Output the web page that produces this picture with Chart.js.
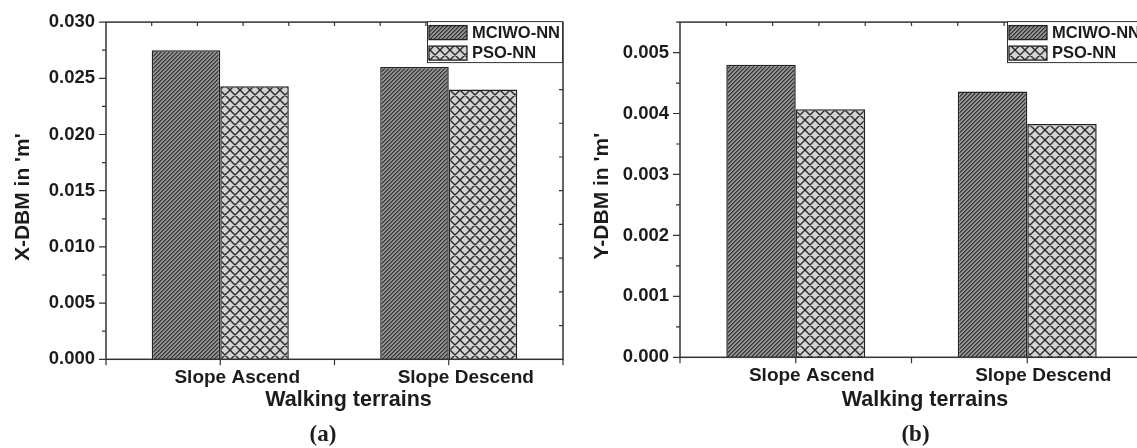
<!DOCTYPE html>
<html><head><meta charset="utf-8">
<script src="https://cdn.jsdelivr.net/npm/chart.js@4.4.1/dist/chart.umd.min.js"></script>
<style>
html,body{margin:0;padding:0;background:#fff;overflow:hidden}
#wrap{position:relative;width:1137px;height:448px;overflow:hidden;background:#fff}
.c{position:absolute;top:0;height:448px}
#ca{left:0;width:575px}
#cb{left:575px;width:580px}
</style></head><body>
<div id="wrap"><div class="c" id="ca"><canvas id="a"></canvas></div><div class="c" id="cb"><canvas id="b"></canvas></div></div>
<script>
// ---- data ----
const categories = ['Slope Ascend', 'Slope Descend'];
const seriesNames = ['MCIWO-NN', 'PSO-NN'];
const xdbmMCIWO = [0.0275, 0.0260];
const xdbmPSO = [0.0243, 0.0240];
const ydbmMCIWO = [0.00480, 0.00436];
const ydbmPSO = [0.00407, 0.00383];
const xdbmTicks = [0, 0.005, 0.010, 0.015, 0.020, 0.025, 0.030];
const ydbmTicks = [0, 0.001, 0.002, 0.003, 0.004, 0.005];
const xdbmMax = 0.030;
const ydbmMax = 0.0055;
const xAxisTitle = 'Walking terrains';
const yTitleA = "X-DBM in 'm'";
const yTitleB = "Y-DBM in 'm'";
const captionA = '(a)';
const captionB = '(b)';

// ---- patterns ----
function hatchPattern() {
  const c = document.createElement('canvas'); c.width = 4; c.height = 4;
  const g = c.getContext('2d'); const im = g.createImageData(4, 4);
  for (let y = 0; y < 4; y++) for (let x = 0; x < 4; x++) {
    const d = (x + y) % 4;
    const v = d === 0 ? 52 : (d === 1 ? 92 : 146);
    const i = (y * 4 + x) * 4;
    im.data[i] = im.data[i + 1] = im.data[i + 2] = v; im.data[i + 3] = 255;
  }
  g.putImageData(im, 0, 0);
  return g.createPattern(c, 'repeat');
}
function crossPattern() {
  const p = 10;
  const c = document.createElement('canvas'); c.width = p; c.height = p;
  const g = c.getContext('2d');
  g.fillStyle = '#d3d3d3'; g.fillRect(0, 0, p, p);
  g.strokeStyle = '#2a2a2a'; g.lineWidth = 1.4;
  g.beginPath();
  for (const o of [-p, 0, p]) {
    g.moveTo(o - 2, -2); g.lineTo(o + p + 2, p + 2);
    g.moveTo(o - 2, p + 2); g.lineTo(o + p + 2, -2);
  }
  g.stroke();
  return g.createPattern(c, 'repeat');
}
const HATCH = hatchPattern();
const CROSS = crossPattern();

const FONT = "'Liberation Sans', Arial, sans-serif";
const INK = '#1c1c1c';

// ---- plugins ----
const decorPlugin = {
  id: 'decor',
  afterDatasetsDraw(chart, args, o) {
    const ctx = chart.ctx, a = chart.chartArea;
    const ys = chart.scales.y, xs = chart.scales.x;
    ctx.save();
    ctx.strokeStyle = '#333';
    ctx.lineWidth = 1.5;
    ctx.strokeRect(a.left, a.top, a.right - a.left, a.bottom - a.top);
    ctx.lineWidth = 1.2;
    ctx.beginPath();
    const tv = ys.ticks.map(t => t.value);
    tv.forEach(v => { const y = ys.getPixelForValue(v); ctx.moveTo(a.left - 7, y); ctx.lineTo(a.left, y); });
    const step = tv[1] - tv[0];
    tv.forEach(v => { const m = v + step / 2; if (m <= ys.max + 1e-12) { const y = ys.getPixelForValue(m); ctx.moveTo(a.left - 4, y); ctx.lineTo(a.left, y); } });
    for (let i = 1; i < 10; i++) {
      const y = a.top + (a.bottom - a.top) * i / 10;
      ctx.moveTo(a.right - 4, y); ctx.lineTo(a.right, y);
      const x = a.left + (a.right - a.left) * i / 10;
      ctx.moveTo(x, a.top); ctx.lineTo(x, a.top + 4);
    }
    const n = chart.data.labels.length;
    for (let k = -0.5; k <= n - 0.5 + 1e-9; k += 0.5) {
      const x = xs.getPixelForValue(k);
      ctx.moveTo(x, a.bottom); ctx.lineTo(x, a.bottom + 6);
    }
    ctx.stroke();

    // legend inside plot, top-right
    const lw = 136, lh = 42;
    const lx = a.right - lw, ly = a.top - 1;
    ctx.fillStyle = '#fff';
    ctx.fillRect(lx, ly, lw, lh);
    ctx.lineWidth = 1; ctx.strokeStyle = '#333';
    ctx.strokeRect(lx + 0.5, ly + 0.5, lw - 1, lh - 1);
    ctx.font = 'bold 16.5px ' + FONT;
    ctx.textBaseline = 'middle'; ctx.textAlign = 'left';
    chart.data.datasets.forEach((ds, i) => {
      const sy = ly + 4.5 + i * 20.5;
      ctx.fillStyle = ds.backgroundColor;
      ctx.fillRect(lx + 2, sy, 38, 14);
      ctx.lineWidth = 1.3; ctx.strokeStyle = '#222';
      ctx.strokeRect(lx + 2, sy, 38, 14);
      ctx.fillStyle = INK;
      ctx.fillText(ds.label, lx + 45, sy + 7.5);
    });

    // axis titles + caption
    ctx.fillStyle = INK;
    ctx.textAlign = 'center'; ctx.textBaseline = 'middle';
    ctx.font = 'bold 21.5px ' + FONT;
    const cx = (a.left + a.right) / 2, cy = (a.top + a.bottom) / 2;
    ctx.fillText(o.xTitle, cx + o.xTitleDx, o.xTitleY);
    ctx.save();
    ctx.font = 'bold 21px ' + FONT;
    ctx.translate(a.left + o.yTitleDx, cy + 6.5);
    ctx.rotate(-Math.PI / 2);
    ctx.fillText(o.yTitle, 0, 0);
    ctx.restore();
    ctx.font = "bold 23px 'Liberation Serif', 'Times New Roman', serif";
    ctx.fillText(o.caption, cx + o.captionDx, o.captionY);
    ctx.restore();
  }
};

function makeChart(id, mc, ps, tickVals, maxV, layout, deco) {
  return new Chart(document.getElementById(id), {
    type: 'bar',
    data: {
      labels: categories,
      datasets: [
        { label: seriesNames[0], data: mc, backgroundColor: HATCH, borderColor: '#222', borderWidth: 1.5 },
        { label: seriesNames[1], data: ps, backgroundColor: CROSS, borderColor: '#222', borderWidth: 1.5 }
      ]
    },
    options: {
      responsive: true, maintainAspectRatio: false, animation: false,
      layout: { padding: { top: layout.top, right: layout.right, left: 0, bottom: 0 } },
      datasets: { bar: { categoryPercentage: 0.6, barPercentage: 1.0 } },
      plugins: { legend: { display: false }, tooltip: { enabled: false }, decor: deco },
      scales: {
        x: {
          grid: { display: false, drawTicks: false }, border: { display: false },
          ticks: { color: INK, font: { family: FONT, size: 19, weight: 'bold' }, padding: 7, labelOffset: layout.labelOffset, maxRotation: 0 },
          afterFit: s => { s.height = layout.xHeight; }
        },
        y: {
          min: 0, max: maxV,
          grid: { display: false, drawTicks: false }, border: { display: false },
          afterBuildTicks: s => { s.ticks = tickVals.map(v => ({ value: v })); },
          ticks: { color: INK, font: { family: FONT, size: 18.5, weight: 'bold' }, padding: 11, callback: v => Number(v).toFixed(3) },
          afterFit: s => { s.width = layout.yWidth; }
        }
      }
    },
    plugins: [decorPlugin]
  });
}

makeChart('a', xdbmMCIWO, xdbmPSO, xdbmTicks, xdbmMax,
  { top: 19.3, right: 12, xHeight: 448 - 359.3, yWidth: 106, labelOffset: 17 },
  { xTitle: xAxisTitle, xTitleDx: 14, xTitleY: 400, yTitle: yTitleA, yTitleDx: -83, caption: captionA, captionDx: -11.5, captionY: 435 });
makeChart('b', ydbmMCIWO, ydbmPSO, ydbmTicks, ydbmMax,
  { top: 14, right: 12, xHeight: 448 - 357.3, yWidth: 105, labelOffset: 16 },
  { xTitle: xAxisTitle, xTitleDx: 13.5, xTitleY: 400, yTitle: yTitleB, yTitleDx: -78, caption: captionB, captionDx: 4, captionY: 435 });
</script>
</body></html>
